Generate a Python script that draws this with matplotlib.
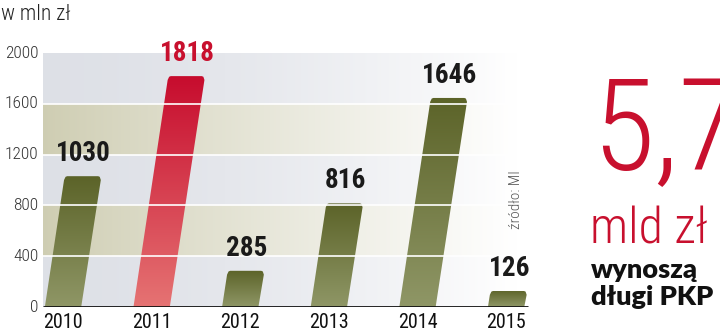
import numpy as np
import matplotlib.pyplot as plt
from matplotlib.patches import Polygon
from matplotlib import font_manager

years = ['2010', '2011', '2012', '2013', '2014', '2015']
values = [1030, 1818, 285, 816, 1646, 126]
highlight = [False, True, False, False, False, False]
y_ticks = [0, 400, 800, 1200, 1600, 2000]

names = {f.name for f in font_manager.fontManager.ttflist}


def pick(cands):
    for c in cands:
        if c in names:
            return c
    return 'DejaVu Sans'


bold_narrow = pick(['Roboto Condensed', 'Fira Sans Condensed', 'Barlow Condensed',
                    'Archivo Narrow', 'PT Sans Narrow', 'Liberation Sans Narrow'])
light_narrow = pick(['Roboto Condensed', 'Fira Sans Condensed', 'Barlow Semi Condensed',
                     'Open Sans', 'Lato'])
heavy = pick(['Lato', 'Roboto', 'Open Sans'])

fig = plt.figure(figsize=(7.2, 3.35), dpi=100)
# axes in pixels: x 43..530, y 307 (0) .. 53 (2000)
ax = fig.add_axes([43 / 720, (335 - 307) / 335, (530 - 43) / 720, (307 - 53) / 335])
x0, x1 = -0.226, 5.27
ax.set_xlim(x0, x1)
ax.set_ylim(0, 2000)
ax.axis('off')


# background bands fading to white
def band(y_lo, y_hi, rgb, power):
    n = 200
    t = np.linspace(0, 1, n)
    fade = np.clip(t / 0.97, 0, 1) ** power
    img = np.zeros((1, n, 3))
    for k in range(3):
        img[0, :, k] = rgb[k] + (1 - rgb[k]) * fade
    ax.imshow(img, extent=[x0, x1, y_lo, y_hi], aspect='auto', zorder=0)


grey = (0.87, 0.88, 0.905)
olive = (0.81, 0.805, 0.70)
for lo in range(0, 2000, 400):
    if lo in (400, 1200):
        band(lo, lo + 400, olive, 0.9)
    else:
        band(lo, lo + 400, grey, 1.6)

# slanted bars with gradient
half = 0.205
slant = 0.000215
for i, (v, hl) in enumerate(zip(values, highlight)):
    s = v * slant
    c = 0.03
    pts = [(i - half, 0), (i + half, 0),
           (i + half + s, v - 30), (i + half + s - c * 0.4, v - 5), (i + half + s - c, v),
           (i - half + s + c, v), (i - half + s + c * 0.4, v - 5), (i - half + s - 0.005, v - 30)]
    poly = Polygon(pts, closed=True, facecolor='none', edgecolor='none')
    ax.add_patch(poly)
    if hl:
        top, bot = np.array([0.78, 0.05, 0.18]), np.array([0.90, 0.45, 0.45])
    else:
        top, bot = np.array([0.36, 0.39, 0.16]), np.array([0.56, 0.59, 0.40])
    n = 100
    t = np.linspace(0, 1, n)[:, None]
    col = top + (bot - top) * t
    img = np.repeat(col[:, None, :], 2, axis=1)
    im = ax.imshow(img, extent=[i - half - 0.01, i + half + s + 0.01, 0, v],
                   aspect='auto', zorder=2)
    im.set_clip_path(poly)
    ax.text(i + s + 0.01, v + 70, str(v), ha='center', va='bottom',
            fontsize=19.5, fontweight='bold', family=bold_narrow,
            color='#c8102e' if hl else '#1a1a1a', zorder=5)

# white grid lines
for yv in y_ticks[1:-1]:
    ax.plot([x0, x1], [yv, yv], color='white', lw=1.2, zorder=3)
ax.plot([x0, 5.25], [0, 0], color='#111111', lw=2, zorder=4, solid_capstyle='butt')

# tick labels
for yv in y_ticks:
    ax.text(x0 - 0.05, yv, str(yv), ha='right', va='center', fontsize=12.5,
            family=light_narrow, fontweight='light', color='#333333', clip_on=False)
for i, yr in enumerate(years):
    ax.text(i, -45, yr, ha='center', va='top', fontsize=14.5, family=light_narrow,
            color='#111111', clip_on=False)

fig.text(1 / 720, 1 - 14 / 335, 'w mln zł', ha='left', va='center', fontsize=15.5,
         family=light_narrow, fontweight='light', color='#222222')
fig.text(516 / 720, 1 - 200 / 335, 'źródło: MI', ha='center', va='center', rotation=90,
         fontsize=11, family=light_narrow, fontweight='light', color='#555555')

red = '#c8102e'
fig.text(592 / 720, 1 - 170 / 335, '5,7', ha='left', va='baseline', fontsize=92,
         family=light_narrow, fontweight='light', color=red)
fig.text(590 / 720, 1 - 244 / 335, 'mld zł', ha='left', va='baseline', fontsize=36,
         family=light_narrow, fontweight='light', color=red)
fig.text(591 / 720, 1 - 278 / 335, 'wynoszą', ha='left', va='baseline', fontsize=19.5,
         family=heavy, fontweight='heavy', color='#111111')
fig.text(591 / 720, 1 - 305 / 335, 'długi PKP', ha='left', va='baseline', fontsize=19.5,
         family=heavy, fontweight='heavy', color='#111111')

fig.savefig('out.png', dpi=100)
